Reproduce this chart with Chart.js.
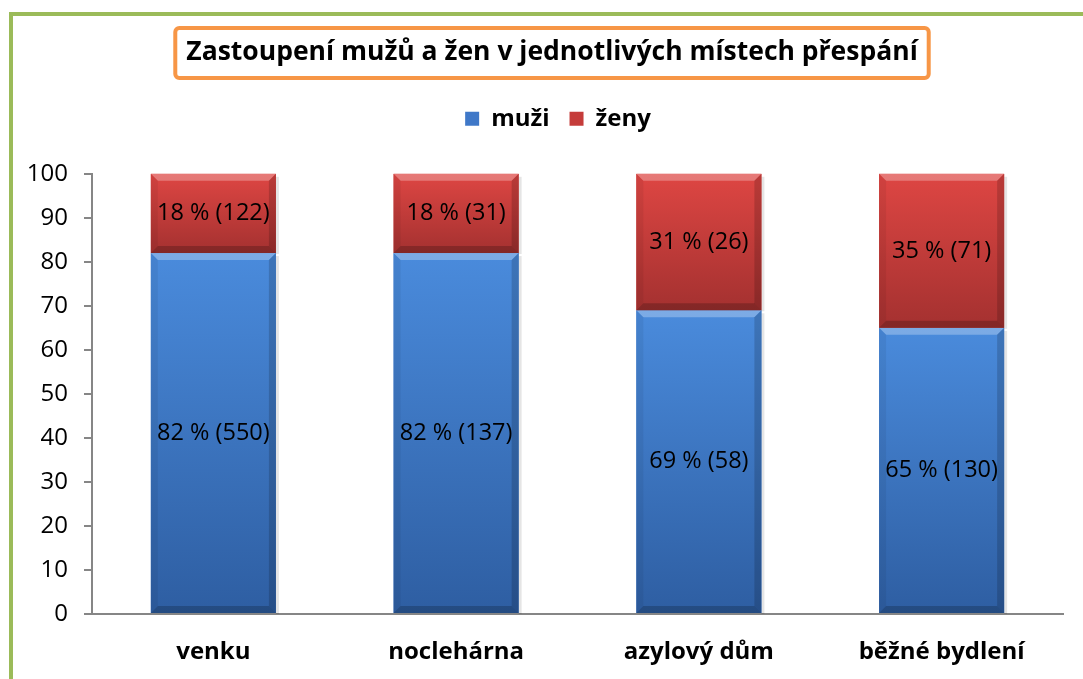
<!DOCTYPE html>
<html>
<head>
<meta charset="utf-8">
<script src="https://cdn.jsdelivr.net/npm/chart.js@4/dist/chart.umd.min.js"></script>
<style>
  html, body { margin: 0; padding: 0; background: #ffffff; }
  #wrap { width: 1083px; height: 679px; position: relative; }
</style>
</head>
<body>
<div id="wrap"><canvas id="c" width="1083" height="679"></canvas></div>
<script>
const categories = ['venku', 'noclehárna', 'azylový dům', 'běžné bydlení'];
const seriesNames = ['muži', 'ženy'];
const muziPct = [82, 82, 69, 65];
const zenyPct = [18, 18, 31, 35];
const muziCounts = [550, 137, 58, 130];
const zenyCounts = [122, 31, 26, 71];
const yTicks = [0, 10, 20, 30, 40, 50, 60, 70, 80, 90, 100];
const chartTitle = 'Zastoupení mužů a žen v jednotlivých místech přespání';

const FONT = '"Open Sans", Lato, sans-serif';
const palette = {
  muzi: { base: '#3F78C8', top: '#4A8BDC', bottom: '#2E5EA2' },
  zeny: { base: '#C53C3A', top: '#DE4643', bottom: '#A43130' }
};

const framePlugin = {
  id: 'frame',
  beforeDraw(chart) {
    const ctx = chart.ctx;
    ctx.save();
    ctx.fillStyle = '#ffffff';
    ctx.fillRect(0, 0, chart.width, chart.height);
    ctx.strokeStyle = '#9BBB59';
    ctx.lineWidth = 4;
    ctx.beginPath();
    ctx.moveTo(11, chart.height + 5);
    ctx.lineTo(11, 14);
    ctx.lineTo(chart.width + 5, 14);
    ctx.stroke();
    ctx.restore();
  },
  afterLayout(chart) {
    if (chart.legend) { chart.legend.left += 14; chart.legend.right += 14; }
    if (chart.titleBlock) { chart.titleBlock.left += 8; chart.titleBlock.right += 8; }
  },
  afterDraw(chart) {
    const tb = chart.titleBlock;
    if (!tb) return;
    const ctx = chart.ctx;
    const opts = chart.options.plugins.title;
    ctx.save();
    ctx.font = 'bold ' + opts.font.size + 'px ' + FONT;
    const w = ctx.measureText(chartTitle).width;
    const cx = (tb.left + tb.right) / 2;
    const cy = tb.top + opts.padding.top + opts.font.size * 1.2 / 2;
    const x0 = cx - w / 2 - 11, x1 = cx + w / 2 + 11;
    const y0 = cy - 25, y1 = cy + 25;
    ctx.strokeStyle = '#F79646';
    ctx.lineWidth = 4;
    ctx.beginPath();
    ctx.roundRect(x0, y0, x1 - x0, y1 - y0, 4);
    ctx.stroke();
    ctx.restore();
  }
};

const legendSpacer = {
  id: 'legendSpacer',
  beforeInit(chart) {
    const orig = chart.legend.fit;
    chart.legend.fit = function () {
      orig.call(this);
      this.height += 33;
    };
  }
};

const barStyle = {
  id: 'barStyle',
  afterDatasetsDraw(chart) {
    const ctx = chart.ctx;
    const counts = [muziCounts, zenyCounts];
    const keys = ['muzi', 'zeny'];
    chart.data.datasets.forEach((ds, di) => {
      const meta = chart.getDatasetMeta(di);
      const pal = palette[keys[di]];
      meta.data.forEach((el, i) => {
        const p = el.getProps(['x', 'y', 'base', 'width'], true);
        const L = p.x - p.width / 2, R = p.x + p.width / 2;
        const T = Math.min(p.y, p.base), B = Math.max(p.y, p.base);
        const b = 7;
        ctx.save();
        ctx.fillStyle = 'rgba(0,0,0,0.10)';
        ctx.fillRect(R, T + 3, 3, B - T - 2);
        const g = ctx.createLinearGradient(0, T, 0, B);
        g.addColorStop(0, pal.top);
        g.addColorStop(1, pal.bottom);
        ctx.fillStyle = g;
        ctx.fillRect(L, T, R - L, B - T);
        const poly = (pts, c) => {
          ctx.beginPath();
          ctx.moveTo(pts[0][0], pts[0][1]);
          for (let k = 1; k < pts.length; k++) ctx.lineTo(pts[k][0], pts[k][1]);
          ctx.closePath();
          ctx.fillStyle = c;
          ctx.fill();
        };
        poly([[L, T], [R, T], [R - b, T + b], [L + b, T + b]], 'rgba(255,255,255,0.28)');
        poly([[L, B], [R, B], [R - b, B - b], [L + b, B - b]], 'rgba(0,0,0,0.20)');
        poly([[L, T], [L + b, T + b], [L + b, B - b], [L, B]], 'rgba(0,0,0,0.06)');
        poly([[R, T], [R - b, T + b], [R - b, B - b], [R, B]], 'rgba(0,0,0,0.16)');
        ctx.fillStyle = '#000000';
        ctx.font = '23.5px ' + FONT;
        ctx.textAlign = 'center';
        ctx.textBaseline = 'middle';
        const v = ds.data[i];
        ctx.fillText(v + ' % (' + counts[di][i] + ')', p.x, (T + B) / 2);
        ctx.restore();
      });
    });
  }
};

new Chart(document.getElementById('c'), {
  type: 'bar',
  data: {
    labels: categories,
    datasets: [
      { label: seriesNames[0], data: muziPct, backgroundColor: palette.muzi.base, borderWidth: 0 },
      { label: seriesNames[1], data: zenyPct, backgroundColor: palette.zeny.base, borderWidth: 0 }
    ]
  },
  options: {
    responsive: false,
    animation: false,
    devicePixelRatio: 1,
    layout: { padding: { left: 25, right: 20, top: 0, bottom: 12 } },
    datasets: { bar: { categoryPercentage: 1, barPercentage: 0.515 } },
    plugins: {
      tooltip: { enabled: false },
      title: {
        display: true,
        text: chartTitle,
        color: '#000000',
        font: { family: FONT, size: 26.5, weight: 'bold' },
        padding: { top: 37, bottom: 18 }
      },
      legend: {
        display: true,
        position: 'top',
        labels: {
          color: '#000000',
          font: { family: FONT, size: 24, weight: 'bold' },
          boxWidth: 14,
          boxHeight: 14,
          padding: 20
        }
      }
    },
    scales: {
      x: {
        stacked: true,
        afterFit(axis) { axis.height = 53; },
        grid: { display: false, drawTicks: false },
        border: { display: true, color: '#868686', width: 2 },
        ticks: { color: '#000000', font: { family: FONT, size: 24, weight: 'bold' }, padding: 24 }
      },
      y: {
        stacked: true,
        min: 0,
        max: 100,
        afterBuildTicks(axis) { axis.ticks = yTicks.map(v => ({ value: v })); },
        afterFit(axis) { axis.width = 67; },
        grid: { drawOnChartArea: false, drawTicks: true, tickLength: 8, color: '#868686', lineWidth: 2 },
        border: { display: true, color: '#868686', width: 2 },
        ticks: { color: '#000000', font: { family: FONT, size: 24 }, padding: 16 }
      }
    }
  },
  plugins: [framePlugin, legendSpacer, barStyle]
});
</script>
</body>
</html>
